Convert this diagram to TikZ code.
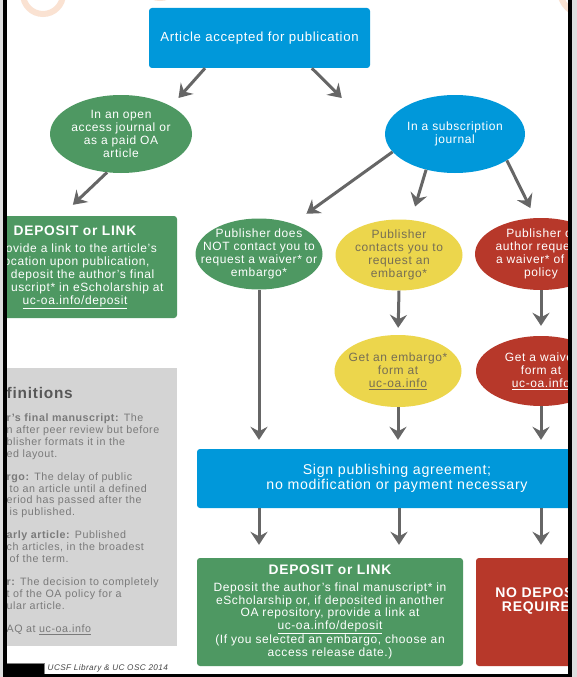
\documentclass[tikz,border=0pt]{standalone}
\usepackage{fontspec}
\setmainfont{Liberation Sans}[LetterSpace=5]
\usetikzlibrary{arrows.meta,shapes.geometric}
\definecolor{oablue}{RGB}{0,152,218}
\definecolor{oagreen}{RGB}{78,152,98}
\definecolor{oayellow}{RGB}{236,214,76}
\definecolor{oared}{RGB}{183,56,42}
\definecolor{arrowgray}{RGB}{102,102,102}
\definecolor{panelgray}{RGB}{212,212,212}
\definecolor{deftext}{RGB}{122,122,122}
\definecolor{headgray}{RGB}{88,88,88}
\definecolor{footgray}{RGB}{70,70,70}
\definecolor{olivetext}{RGB}{118,110,84}
\definecolor{ringpeach}{RGB}{250,226,210}
\definecolor{edgegray}{RGB}{222,222,222}
\begin{document}
\begin{tikzpicture}[x=10pt,y=10pt,box node/.style={fill=#1, rounded corners=3pt, text=white, align=center, inner sep=0pt},oval node/.style={ellipse, fill=#1, inner sep=0pt, minimum width=127pt, minimum height=71pt},oval text/.style={text=white, align=center, inner sep=0pt, font=\fontsize{12}{13}\selectfont},title text/.style={text=white, align=center, inner sep=0pt, font=\fontsize{14}{14.5}\selectfont\bfseries},def head/.style={anchor=west, inner sep=0pt, text=headgray, font=\fontsize{15.4}{18}\selectfont\bfseries},def body/.style={anchor=north west, inner sep=0pt, align=left, text=deftext, font=\fontsize{10.7}{11.7}\selectfont},flow/.style={arrowgray, line width=3pt, -{Stealth[length=13pt,width=17pt,inset=4.5pt]}},ring/.style={ringpeach, line width=6pt}]%
\path[use as bounding box] (0,0) rectangle (57.7,-67.7);%
\fill[white] (0,0) rectangle (57.7,-67.7);%
\begin{scope}%
\clip (0.7,0) rectangle (56.8,-67.4);%
  % faint rings at the top edge%
\draw[ring] (4.3,0.6) circle (2.0);%
\draw[ring] (16.0,2.2) circle (2.0);%
\draw[ring] (58.5,1.0) circle (2.5);%
  % definitions panel%
\fill[panelgray] (-3,-36.8) rectangle (17.7,-64.6);%
\node[def head] (defhead) at (0.65,-39.3) {finitions};%
\node[def body] (defbody) at (0.65,-41.4) {\textbf{r's final manuscript:} The\\n after peer review but before\\blisher formats it in the\\ed layout.\\[11.7pt]\textbf{rgo:} The delay of public\\\hspace*{3pt}to an article until a defined\\eriod has passed after the\\\hspace*{3pt}is published.\\[11.7pt]\textbf{arly article:} Published\\ch articles, in the broadest\\\hspace*{3pt}of the term.\\[11.7pt]\textbf{r:} The decision to completely\\t of the OA policy for a\\ular article.\\[11.7pt]AQ at \underline{uc-oa.info}};%
\node[fill=black, draw=gray, line width=1pt, minimum width=38pt, minimum height=11pt, inner sep=0pt] (logo) at (2.5,-66.85) {};%
\node[anchor=west, inner sep=0pt, text=footgray, font=\fontsize{8.2}{10}\selectfont\itshape] (credit) at ([xshift=3pt]logo.east) {UCSF Library \& UC OSC 2014};%
  % top%
\node[box node=oablue, minimum width=221pt, minimum height=60pt, font=\fontsize{13.2}{15}\selectfont] (accepted) at (25.95,-3.8) {Article accepted for publication};%
\node[oval node=oagreen, minimum width=142pt, minimum height=78pt, label={[oval text]center:{In an open\\access journal or\\as a paid OA\\article}}] (oajournal) at (12.1,-13.4) {};%
\node[oval node=oablue, minimum width=140pt, minimum height=78pt, label={[oval text]center:{In a subscription\\journal}}] (subjournal) at (45.5,-13.4) {};%
\node[box node=oagreen, minimum width=204pt, minimum height=102pt, font=\fontsize{12}{13}\selectfont] (depositoa) at (7.5,-26.7) {{\fontsize{13.8}{16}\selectfont\bfseries DEPOSIT or LINK}\\[4pt]\phantom{Pr}ovide a link to the article's\\location upon publication,\\\phantom{or }deposit the author's final\\\phantom{man}uscript* in eScholarship at\\\underline{uc-oa.info/deposit}};%
  % subscription branches%
\node[oval node=oagreen, label={[oval text]center:{Publisher does\\NOT contact you to\\request a waiver* or\\embargo*}}] (nocontact) at (25.9,-25.4) {};%
\node[oval node=oayellow, label={[oval text, text=olivetext]center:{Publisher\\contacts you to\\request an\\embargo*}}] (embargo) at (39.9,-25.5) {};%
\node[oval node=oared, minimum width=132pt, minimum height=72pt, label={[oval text]center:{Publisher o\phantom{r}\\author reque\phantom{sts}\\a waiver* of \phantom{the}\\policy}}] (waiver) at (54.1,-25.4) {};%
\node[oval node=oayellow, minimum height=72pt, label={[oval text, text=olivetext]center:{Get an embargo*\\form at\\\underline{uc-oa.info}}}] (embargoform) at (39.8,-37.1) {};%
\node[oval node=oared, minimum width=130pt, minimum height=70pt, label={[oval text]center:{Get a waive\phantom{r}\\form at\\\underline{uc-oa.info}}}] (waiverform) at (54.1,-37.1) {};%
  % bottom%
\node[box node=oablue, minimum width=400pt, minimum height=59pt, font=\fontsize{14.2}{15}\selectfont] (sign) at (39.7,-47.85) {Sign publishing agreement;\\no modification or payment necessary};%
\node[box node=oagreen, minimum width=266pt, minimum height=108pt, font=\fontsize{12}{12.7}\selectfont] (depositsub) at (33.0,-61.2) {{\fontsize{13.8}{16}\selectfont\bfseries DEPOSIT or LINK}\\[4pt]Deposit the author's final manuscript* in\\eScholarship or, if deposited in another\\OA repository, provide a link at\\\underline{uc-oa.info/deposit}\\(If you selected an embargo, choose an\\access release date.)};%
\node[box node=oared, minimum width=130pt, minimum height=108pt, label={[title text, yshift=11pt]center:{NO DEPOS\phantom{IT}\\REQUIRE\phantom{D}}}] (nodep) at (54.1,-61.2) {};%
  % arrows%
\draw[flow, shorten >=11pt] (accepted.209.7) -- (oajournal.29.5);%
\draw[flow, shorten >=63pt] (accepted.330.3) -- (subjournal.187.5);%
\draw[flow, shorten >=16pt] (oajournal.250.2) -- (depositoa.105);%
\draw[flow, shorten >=17pt] (subjournal.196) -- (nocontact.42);%
\draw[flow, shorten >=14pt] (subjournal.231.7) -- (embargo.71.2);%
\draw[flow, shorten >=11pt] (subjournal.333) -- (waiver.99.7);%
\draw[flow, shorten >=9pt] (nocontact.south) -- (nocontact.south |- sign.north);%
\draw[flow, shorten >=7pt] (embargo.south) -- (embargoform.north);%
\draw[flow, shorten >=10pt] (waiver.south) -- (waiverform.north);%
\draw[flow, shorten >=9pt] (embargoform.south) -- (embargoform.south |- sign.north);%
\draw[flow, shorten >=9pt] (waiverform.south) -- (waiverform.south |- sign.north);%
\foreach \col/\dest in {nocontact/depositsub, embargo/depositsub, waiver/nodep}%
  \draw[flow, shorten >=13pt] (sign.south -| \col) -- (\col |- \dest.north);%
\end{scope}%
  % frame%
\fill[edgegray] (0,0) rectangle (0.3,-67.7);%
\fill[black] (0.3,0) rectangle (0.7,-67.7);%
\fill[black] (56.8,0) rectangle (57.2,-67.7);%
\fill[edgegray] (57.2,0) rectangle (57.7,-67.7);%
\fill[black] (0.3,-67.4) rectangle (57.2,-67.7);%
\end{tikzpicture}
\end{document}
